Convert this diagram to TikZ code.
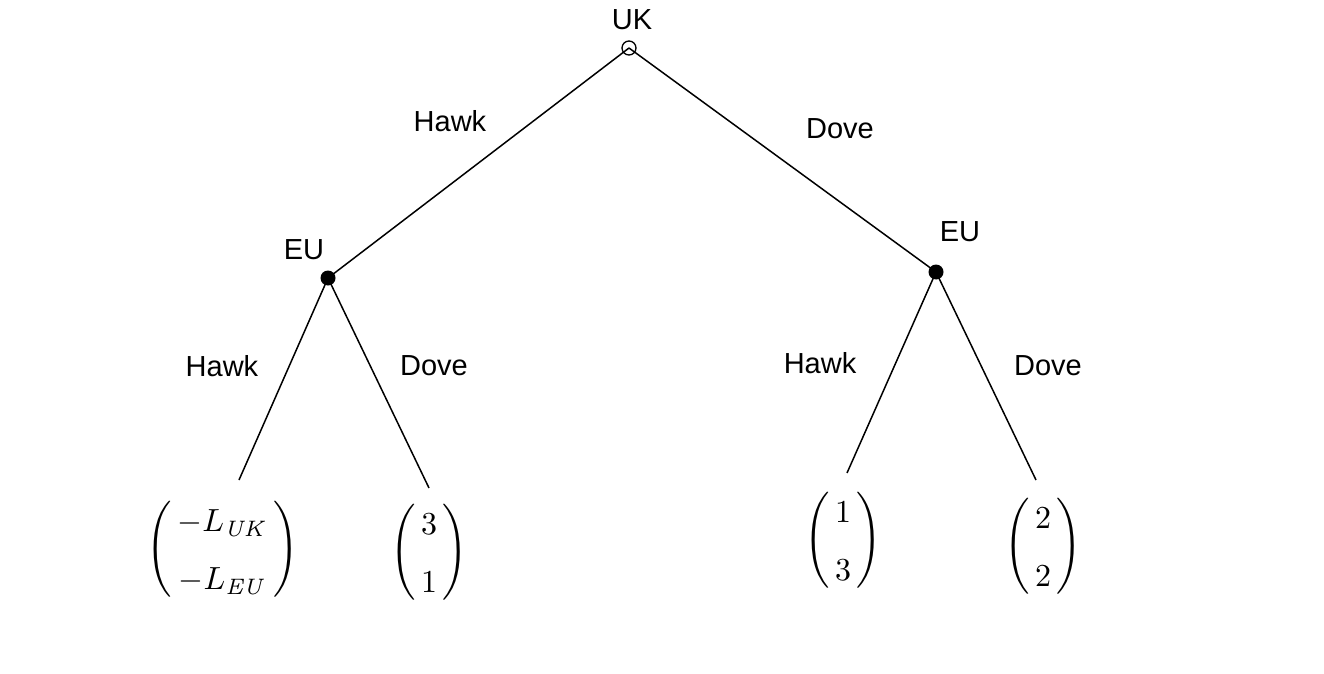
\documentclass[tikz,border=0pt]{standalone}
\usepackage{amsmath}
\usepackage[no-math]{fontspec}
\setmainfont{Liberation Sans}
\newcommand{\payvec}[2]{\Bigg(\,\begin{matrix} #1 \\ #2 \end{matrix}\,\Bigg)}
\tikzset{
  lbl/.style={font=\fontsize{29}{34}\selectfont, inner sep=0pt},
  pay/.style={font=\fontsize{10}{18}\selectfont, inner sep=0pt, scale=3.2},
  edge/.style={line width=1.5pt},
  opennode/.style={circle, draw, line width=1.3pt, minimum size=14pt, inner sep=0pt},
  dotnode/.style={circle, fill=black, minimum size=15pt, inner sep=0pt}
}
\begin{document}
\begin{tikzpicture}[x=1pt,y=-1pt]
\useasboundingbox (0,0) rectangle (1324,674);
\coordinate (root) at (629,48);
\coordinate (euL) at (328,278);
\coordinate (euR) at (936,272);
\coordinate (lL) at (239,480);
\coordinate (lR) at (429,488);
\coordinate (rL) at (847,473);
\coordinate (rR) at (1036,480);
\draw[edge] (root) -- (euL);
\draw[edge] (root) -- (euR);
\draw[edge] (euL) -- (lL);
\draw[edge] (euL) -- (lR);
\draw[edge] (euR) -- (rL);
\draw[edge] (euR) -- (rR);
\node[opennode] (rootc) at (root) {};
\node[dotnode] (euLc) at (euL) {};
\node[dotnode] (euRc) at (euR) {};
\node[lbl] (tUK) at (632,20) {UK};
\node[lbl] (tEUL) at (304,250) {EU};
\node[lbl] (tEUR) at (960,232) {EU};
\node[lbl] (h1) at (450,121) {Hawk};
\node[lbl] (d1) at (840,129) {Dove};
\node[lbl] (h2) at (222,366) {Hawk};
\node[lbl] (d2) at (434,366) {Dove};
\node[lbl] (h3) at (820,363) {Hawk};
\node[lbl] (d3) at (1048,366) {Dove};
\node[pay] (p1) at (223,549) {$\payvec{-L_{\mathit{UK}}}{-L_{\mathit{EU}}}$};
\node[pay] (p2) at (429,552) {$\payvec{3}{1}$};
\node[pay] (p3) at (843,540) {$\payvec{1}{3}$};
\node[pay] (p4) at (1043,546) {$\payvec{2}{2}$};
\end{tikzpicture}
\end{document}
